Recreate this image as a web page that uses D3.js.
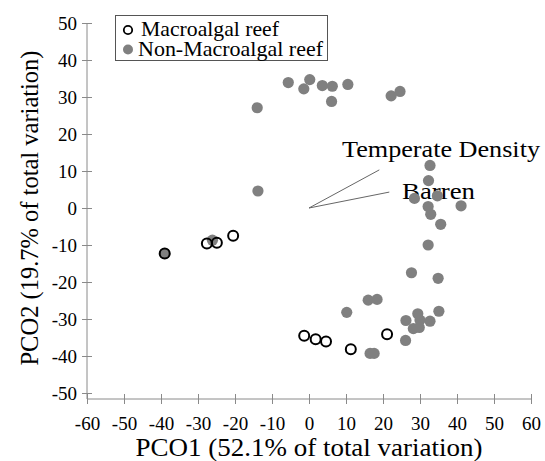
<!DOCTYPE html>
<html>
<head>
<meta charset="utf-8">
<script src="https://cdn.jsdelivr.net/npm/d3@7"></script>
<style>
body { margin: 0; background: #fff; }
text { font-family: "Liberation Serif", serif; fill: #000; }
</style>
</head>
<body>
<div id="chart"></div>
<script>
// PCO ordination scores
var macroX = [-39.0, -27.6, -24.9, -20.5, -1.3, 1.8, 4.6, 11.3, 21.1];
var macroY = [-12.3, -9.6, -9.4, -7.5, -34.5, -35.5, -36.1, -38.2, -34.1];

var nonX = [-14.0, -5.6, -1.4, 0.2, 3.6, 6.3, 6.1, 10.5, 22.2, 24.6,
    -13.8, -39.0, -26.1,
    32.7, 32.3, 28.5, 34.7, 32.2, 32.9, 41.1, 35.6, 32.2,
    27.7, 34.9, 16.0, 18.4, 10.2, 26.2, 29.4, 30.0, 32.7, 35.1, 28.2, 29.8, 26.1, 16.5, 17.6];
var nonY = [27.1, 33.9, 32.2, 34.7, 33.1, 32.9, 28.8, 33.4, 30.3, 31.5,
    4.6, -12.3, -8.7,
    11.5, 7.4, 2.6, 3.3, 0.4, -1.7, 0.6, -4.4, -10.0,
    -17.5, -19.0, -24.9, -24.7, -28.2, -30.4, -28.6, -30.3, -30.6, -27.9, -32.6, -32.3, -35.8, -39.3, -39.3];

// vector overlay
var vectorNames = ["Temperate Density", "Barren"];
var vectorX = [19.0, 21.7];
var vectorY = [10.3, 4.3];

var xTicks = d3.range(-60, 61, 10);
var yTicks = d3.range(-50, 51, 10);

var svgWidth = 545;
var svgHeight = 461;

var svg = d3.select("#chart")
.append("svg")
.attr("width", svgWidth)
.attr("height", svgHeight);

var xScale = d3.scaleLinear().domain([-60, 60]).range([87, 531]);
var yScale = d3.scaleLinear().domain([-50, 50]).range([393, 23]);
var axisY = 399;
var fmt = d => String(d);

// x axis
var xAxis = svg.append("g")
.attr("transform", `translate(0, ${axisY})`)
.call(d3.axisBottom(xScale).tickValues(xTicks).tickSize(5).tickPadding(13).tickFormat(fmt));
xAxis.select(".domain").remove();
xAxis.selectAll(".tick line").attr("y1", -5).attr("y2", 5).attr("stroke", "#8a8a8a");
xAxis.selectAll(".tick text").style("font-size", "19px").style("font-family", "Liberation Serif").attr("fill", "#000");
svg.append("line")
.attr("x1", xScale(-60)).attr("x2", xScale(60))
.attr("y1", axisY).attr("y2", axisY)
.attr("stroke", "#8a8a8a");

// y axis
var yAxis = svg.append("g")
.attr("transform", `translate(${xScale(-60)}, 0)`)
.call(d3.axisLeft(yScale).tickValues(yTicks).tickSize(5).tickPadding(5).tickFormat(fmt));
yAxis.select(".domain").remove();
yAxis.selectAll(".tick line").attr("x1", -5).attr("x2", 5).attr("stroke", "#8a8a8a");
yAxis.selectAll(".tick text").style("font-size", "19px").style("font-family", "Liberation Serif").attr("fill", "#000");
svg.append("line")
.attr("x1", xScale(-60)).attr("x2", xScale(-60))
.attr("y1", yScale(50)).attr("y2", axisY)
.attr("stroke", "#8a8a8a");

// axis titles
svg.append("text")
.attr("x", xScale(0))
.attr("y", 456)
.attr("text-anchor", "middle")
.attr("font-size", "25px")
.attr("textLength", 347)
.attr("lengthAdjust", "spacingAndGlyphs")
.text("PCO1 (52.1% of total variation)");

svg.append("text")
.attr("transform", `translate(38, ${yScale(0)}) rotate(-90)`)
.attr("text-anchor", "middle")
.attr("font-size", "24.5px")
.text("PCO2 (19.7% of total variation)");

// vectors
var vectors = vectorNames.map((n, i) => ({name: n, x: vectorX[i], y: vectorY[i]}));
svg.append("g")
.selectAll("line")
.data(vectors)
.enter()
.append("line")
.attr("x1", xScale(0))
.attr("y1", yScale(0))
.attr("x2", d => xScale(d.x))
.attr("y2", d => yScale(d.y))
.attr("stroke", "#666")
.attr("stroke-width", 1);

svg.append("text")
.attr("x", 342)
.attr("y", 157)
.attr("font-size", "24px")
.attr("textLength", 198)
.attr("lengthAdjust", "spacingAndGlyphs")
.text(vectorNames[0]);
svg.append("text")
.attr("x", 402)
.attr("y", 199)
.attr("font-size", "24px")
.attr("textLength", 73)
.attr("lengthAdjust", "spacingAndGlyphs")
.text(vectorNames[1]);

// points
var nonData = nonX.map((x, i) => ({x: x, y: nonY[i]}));
var macroData = macroX.map((x, i) => ({x: x, y: macroY[i]}));

svg.append("g")
.selectAll("circle")
.data(nonData)
.enter()
.append("circle")
.attr("cx", d => xScale(d.x))
.attr("cy", d => yScale(d.y))
.attr("r", 5.6)
.attr("fill", "#808080");

svg.append("g")
.selectAll("circle")
.data(macroData)
.enter()
.append("circle")
.attr("cx", d => xScale(d.x))
.attr("cy", d => yScale(d.y))
.attr("r", 5)
.attr("fill", "none")
.attr("stroke", "#000")
.attr("stroke-width", 2);

// legend
var legend = svg.append("g");
legend.append("rect")
.attr("x", 115.5).attr("y", 15.5)
.attr("width", 212).attr("height", 45)
.attr("fill", "#fff")
.attr("stroke", "#555");
legend.append("circle")
.attr("cx", 128).attr("cy", 30).attr("r", 4.2)
.attr("fill", "none").attr("stroke", "#000").attr("stroke-width", 1.8);
legend.append("text")
.attr("x", 141).attr("y", 36)
.attr("font-size", "21.5px")
.attr("textLength", 138)
.attr("lengthAdjust", "spacingAndGlyphs")
.text("Macroalgal reef");
legend.append("circle")
.attr("cx", 128).attr("cy", 49.5).attr("r", 5)
.attr("fill", "#808080");
legend.append("text")
.attr("x", 138).attr("y", 56)
.attr("font-size", "21.5px")
.attr("textLength", 185)
.attr("lengthAdjust", "spacingAndGlyphs")
.text("Non-Macroalgal reef");
</script>
</body>
</html>
